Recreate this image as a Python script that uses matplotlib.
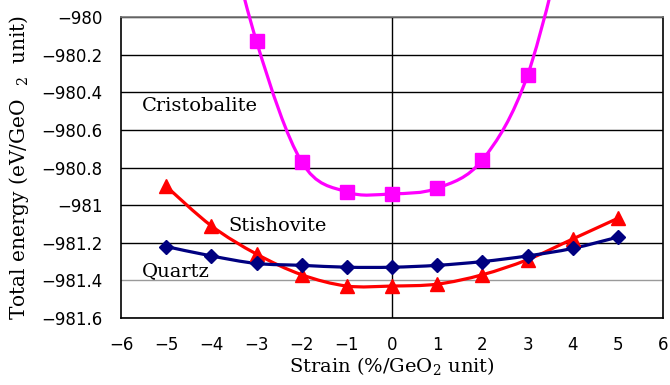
import numpy as np
import matplotlib.pyplot as plt
from matplotlib.path import Path
from matplotlib.patches import PathPatch

# Datos
strain = [-5, -4, -3, -2, -1, 0, 1, 2, 3, 4, 5]
quartz = [-981.22, -981.27, -981.31, -981.32, -981.33, -981.33,
          -981.32, -981.30, -981.27, -981.23, -981.17]
stishovite = [-980.90, -981.11, -981.26, -981.37, -981.43, -981.43,
              -981.42, -981.37, -981.29, -981.18, -981.07]
# los puntos en -4 y 4 quedan fuera del eje (estimados)
cristo_strain = [-4, -3, -2, -1, 0, 1, 2, 3, 4]
cristobalite = [-979.2, -980.13, -980.77, -980.93, -980.94, -980.91,
                -980.76, -980.31, -979.4]

xticks = [-6, -5, -4, -3, -2, -1, 0, 1, 2, 3, 4, 5, 6]
yticks = [-981.6, -981.4, -981.2, -981.0, -980.8, -980.6, -980.4, -980.2, -980.0]
ytick_labels = ['−981.6', '−981.4', '−981.2', '−981', '−980.8', '−980.6',
                '−980.4', '−980.2', '−980']


def smooth_path(x, y, tension=1.0 / 6):
    """Curva tipo Excel (Bezier cúbica por Catmull-Rom)."""
    x = np.asarray(x, float)
    y = np.asarray(y, float)
    n = len(x)
    verts = [(x[0], y[0])]
    codes = [Path.MOVETO]
    for i in range(n - 1):
        p0 = i - 1 if i > 0 else i
        p3 = i + 2 if i + 2 < n else i + 1
        c1 = (x[i] + (x[i + 1] - x[p0]) * tension, y[i] + (y[i + 1] - y[p0]) * tension)
        c2 = (x[i + 1] - (x[p3] - x[i]) * tension, y[i + 1] - (y[p3] - y[i]) * tension)
        verts += [c1, c2, (x[i + 1], y[i + 1])]
        codes += [Path.CURVE4] * 3
    return Path(verts, codes)


plt.rcParams['mathtext.fontset'] = 'dejavuserif'

fig = plt.figure(figsize=(6.7, 3.85), dpi=100)
ax = fig.add_axes([0.1806, 0.174, 0.8090, 0.7818])

series = [
    (cristo_strain, cristobalite, '#ff00ff', 's', 9.5, False),
    (strain, stishovite, '#ff0000', '^', 10, True),
    (strain, quartz, '#000080', 'D', 7.5, True),
]
for xs, ys, col, mk, ms, clip in series:
    patch = PathPatch(smooth_path(xs, ys), facecolor='none', edgecolor=col,
                      lw=2.3, zorder=3, clip_on=clip)
    ax.add_patch(patch)
    ax.plot(xs, ys, linestyle='none', marker=mk, color=col, ms=ms, zorder=4)

ax.set_xlim(-6, 6)
ax.set_ylim(-981.6, -980.0)
ax.set_xticks(xticks)
ax.set_xticklabels([str(t).replace('-', '−') for t in xticks])
ax.set_yticks(yticks)
ax.set_yticklabels(ytick_labels)
ax.tick_params(length=0, labelsize=12)
ax.tick_params(axis='x', pad=13)
ax.tick_params(axis='y', pad=13.5)

ax.grid(axis='y', color='black', lw=1)
ax.get_ygridlines()[1].set_color('#9a9a9a')
ax.axvline(0, color='black', lw=1, zorder=2)
for sp in ax.spines.values():
    sp.set_linewidth(1.2)
ax.spines['top'].set_color('#777777')

ax.set_xlabel('Strain (%/GeO$_2$ unit)', family='DejaVu Serif', fontsize=14, labelpad=1)
ax.set_ylabel('Total energy (eV/GeO  $_2$  unit)', family='DejaVu Serif', fontsize=14.5, labelpad=7)

ax.text(-5.54, -980.50, 'Cristobalite', family='DejaVu Serif', fontsize=14, va='baseline')
ax.text(-3.62, -981.137, 'Stishovite', family='DejaVu Serif', fontsize=14, va='baseline')
ax.text(-5.53, -981.378, 'Quartz', family='DejaVu Serif', fontsize=14, va='baseline')

fig.savefig('out.png', dpi=100)
